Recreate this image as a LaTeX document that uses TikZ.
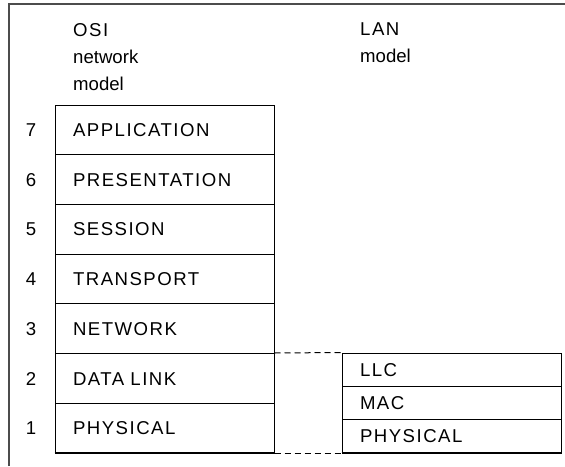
\documentclass[tikz,border=0pt]{standalone}
\usepackage{fontspec}
\setmainfont{Liberation Sans}
\newfontfamily\capsfont[LetterSpace=8]{Liberation Sans}

\begin{document}
\begin{tikzpicture}[x=1pt,y=-1pt]

	\useasboundingbox (0,0) rectangle (565,466);
	\tikzstyle{layer}=[draw, line width=1pt, minimum width=219pt, text width=183pt, inner xsep=18pt, align=left, text height=13.3pt, text depth=0pt, font=\capsfont\fontsize{18.6}{22}\selectfont]
	\tikzstyle{osilayer}=[layer, minimum height=49.7pt]
	\tikzstyle{lanlayer}=[layer, minimum height=33.3pt]
	\tikzstyle{num}=[font=\fontsize{18.6}{22}\selectfont, text height=13.3pt, text depth=0pt]
	\tikzstyle{head}=[anchor=base west, inner sep=0pt, font=\fontsize{18.6}{22}\selectfont]

	% frame
	\draw[line width=1.5pt, gray!60!black] (9,466) -- (9,4) -- (565,4);

	% headings
	\node[head] (osi) at (73,36) {\capsfont OSI};
	\node[head] (osinet) at (73,63) {network};
	\node[head] (osimod) at (73,90) {model};
	\node[head] (lan) at (360,35) {\capsfont LAN};
	\node[head] (lanmod) at (360,62) {model};

	% OSI stack
	\node[osilayer] (app) at (164.5,129.85) {APPLICATION};
	\node[osilayer] (pre) at (164.5,179.55) {PRESENTATION};
	\node[osilayer] (ses) at (164.5,229.25) {SESSION};
	\node[osilayer] (tra) at (164.5,278.95) {TRANSPORT};
	\node[osilayer] (net) at (164.5,328.65) {NETWORK};
	\node[osilayer] (dl) at (164.5,378.35) {DATA LINK};
	\node[osilayer] (ph) at (164.5,428.05) {PHYSICAL};

	\node[num] (n7) at (31,129.85) {7};
	\node[num] (n6) at (31,179.55) {6};
	\node[num] (n5) at (31,229.25) {5};
	\node[num] (n4) at (31,278.95) {4};
	\node[num] (n3) at (31,328.65) {3};
	\node[num] (n2) at (31,378.35) {2};
	\node[num] (n1) at (31,428.05) {1};

	% LAN stack
	\node[lanlayer] (llc) at (451.5,369.65) {LLC};
	\node[lanlayer] (mac) at (451.5,402.95) {MAC};
	\node[lanlayer] (lphy) at (451.5,436.25) {PHYSICAL};

	\draw[line width=2pt] (ph.south west) -- (ph.south east);
	\draw[line width=2pt] (lphy.south west) -- (lphy.south east);

	\draw[line width=1pt, dash pattern=on 6pt off 4pt] (dl.north east) -- (llc.north west);
	\draw[line width=1pt, dash pattern=on 6pt off 4pt] (ph.south east) -- (lphy.south west);

\end{tikzpicture}
\end{document}
